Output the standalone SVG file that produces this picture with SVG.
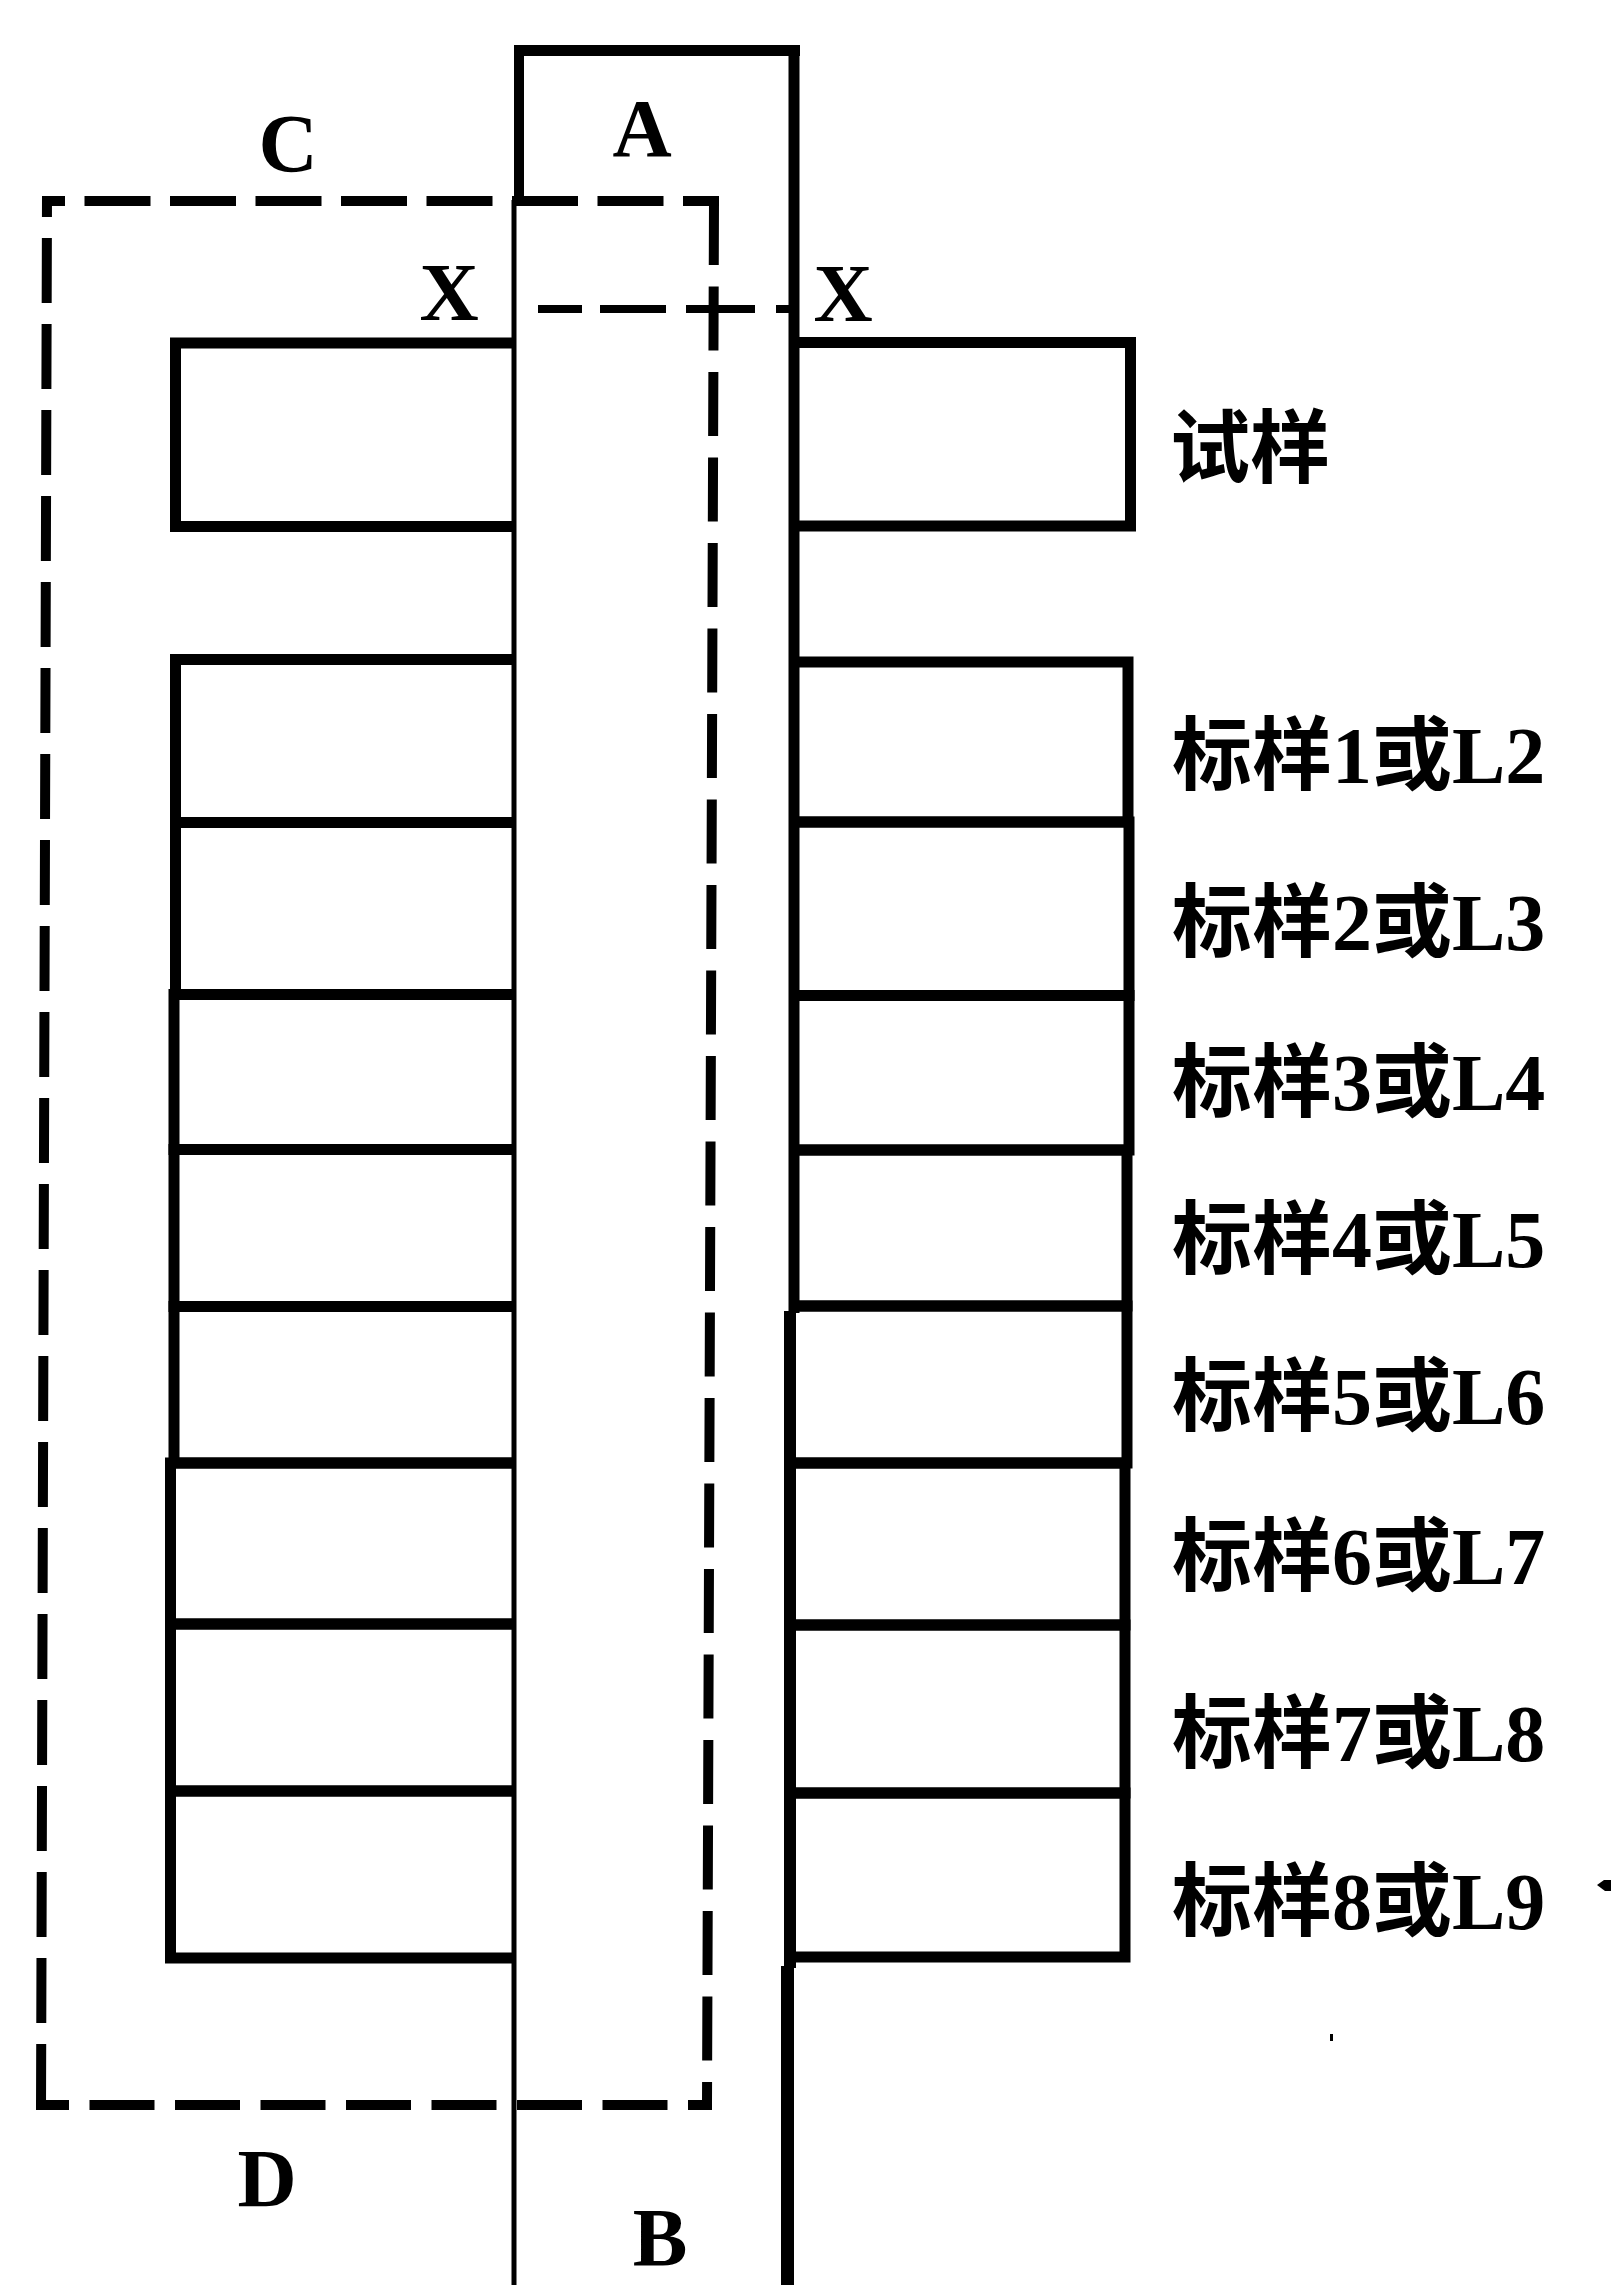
<svg xmlns="http://www.w3.org/2000/svg" width="1611" height="2285" viewBox="0 0 1611 2285">
<style>
.ln{fill:none;stroke:#000;stroke-linecap:butt;stroke-linejoin:miter}
.box{fill:none;stroke:#000;stroke-width:11;stroke-linejoin:miter}
.dash{fill:none;stroke:#000;stroke-width:10}
.lbl{font-family:"Liberation Serif","Noto Sans CJK SC",serif;font-weight:bold;font-size:80px;fill:#000}
.let{font-family:"Liberation Serif",serif;font-weight:bold;font-size:82px;fill:#000;text-anchor:middle}
</style>
<rect width="1611" height="2285" fill="#fff"/>

<g id="region-C">
<path class="dash" d="M44 201H719" stroke-dasharray="66 19.5" stroke-dashoffset="45"/>
<path class="dash" d="M714 201L707 2105" stroke-dasharray="64 21.5" stroke-dashoffset="0"/>
<path class="dash" d="M712 2105H36" stroke-dasharray="65 20.5" stroke-dashoffset="41"/>
<path class="dash" d="M47 196L41 2110" stroke-dasharray="65 21" stroke-dashoffset="44"/>
<text class="let" x="288" y="171">C</text>
<text class="let" x="267" y="2206">D</text>
</g>

<g id="column">
<path class="ln" d="M514 50.5H800" stroke-width="11"/>
<path class="ln" d="M519 45V202" stroke-width="10"/>
<path class="ln" d="M794 45V1313" stroke-width="11"/>
<path class="ln" d="M790 1311V1968" stroke-width="12"/>
<path class="ln" d="M787.5 1966V2285" stroke-width="13"/>
<path class="ln" d="M514 200V2285" stroke-width="5"/>
<text class="let" x="642" y="156">A</text>
<text class="let" x="660" y="2265">B</text>
</g>

<g id="connectors">
<path class="ln" d="M538 309H582M600 309H666M686 309H755M776 309H796" stroke-width="8"/>
<text class="let" x="449" y="320">X</text>
<text class="let" x="843" y="321">X</text>
</g>

<g id="row-0">
<path class="box" d="M514 343H175.5V526.5H514"/>
<path class="box" d="M793 342.5H1130.5V526H793"/>
<text class="lbl" x="1170" y="476">试样</text>
</g>
<g id="row-1">
<path class="box" d="M514 659.5H175.5V822.5H514"/>
<path class="box" d="M793 662H1128V822H793"/>
<text class="lbl" x="1172" y="783">标样1或L2</text>
</g>
<g id="row-2">
<path class="box" d="M514 822.5H175.5V994.5H514"/>
<path class="box" d="M793 822H1129V995.5H793"/>
<text class="lbl" x="1172" y="950">标样2或L3</text>
</g>
<g id="row-3">
<path class="box" d="M514 994.5H174V1149.5H514"/>
<path class="box" d="M793 995.5H1129V1150H793"/>
<text class="lbl" x="1172" y="1110">标样3或L4</text>
</g>
<g id="row-4">
<path class="box" d="M514 1149.5H174V1306.5H514"/>
<path class="box" d="M793 1150H1127V1306H793"/>
<text class="lbl" x="1172" y="1267">标样4或L5</text>
</g>
<g id="row-5">
<path class="box" d="M514 1306.5H174V1463H514"/>
<path class="box" d="M790 1306H1127V1463H790"/>
<text class="lbl" x="1172" y="1424">标样5或L6</text>
</g>
<g id="row-6">
<path class="box" d="M514 1463H170.5V1624H514"/>
<path class="box" d="M790 1463H1125V1625H790"/>
<text class="lbl" x="1172" y="1584">标样6或L7</text>
</g>
<g id="row-7">
<path class="box" d="M514 1624H170.5V1791H514"/>
<path class="box" d="M790 1625H1125V1793H790"/>
<text class="lbl" x="1172" y="1761">标样7或L8</text>
</g>
<g id="row-8">
<path class="box" d="M514 1791H170.5V1958H514"/>
<path class="box" d="M790 1793H1125V1957H790"/>
<text class="lbl" x="1172" y="1929">标样8或L9</text>
</g>

<g id="marks">
<polygon points="1597,1885 1604,1880 1611,1880 1611,1891 1605,1891" fill="#000"/>
<rect x="1330" y="2034" width="3" height="7" fill="#000"/>
</g>
</svg>
